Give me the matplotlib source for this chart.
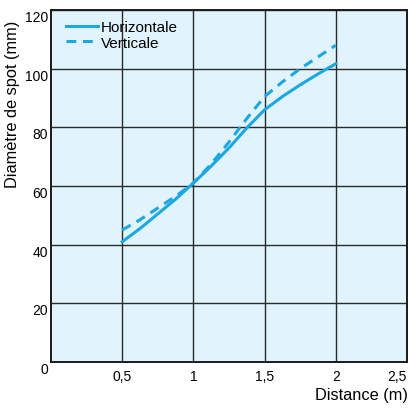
import matplotlib.pyplot as plt
import numpy as np
plt.rcParams['font.family'] = ['Liberation Sans', 'DejaVu Sans']

# donnees
distance = [0.5, 0.625, 0.75, 0.875, 1.0, 1.125, 1.25, 1.375, 1.5, 1.625, 1.75, 1.875, 2.0]
horizontale = [41, 45.5, 50.5, 55.5, 61, 66.8, 73, 79.8, 86, 90.5, 94.5, 98.2, 101.7]
verticale = [45, 48.5, 52.5, 56.5, 61, 67.5, 75, 83, 90.5, 95.5, 100, 104, 108]
xticks = [0.5, 1, 1.5, 2, 2.5]
xlabels = ['0,5', '1', '1,5', '2', '2,5']
yticks = [0, 20, 40, 60, 80, 100, 120]

fig = plt.figure(figsize=(4.09, 4.10), dpi=100)
ax = fig.add_axes([0.1247, 0.1146, 0.8703, 0.8584])
ax.set_facecolor('#e1f3fc')

bleu = '#1ba8e2'
ax.plot(distance, horizontale, '-', color=bleu, lw=2.2, label='Horizontale')
ax.plot(distance, verticale, '--', color=bleu, lw=2.2, dashes=(3.2, 2.2), label='Verticale')

ax.set_xlim(0, 2.5)
ax.set_ylim(0, 120)
ax.set_xticks(xticks)
ax.set_xticklabels(xlabels)
ax.set_yticks(yticks)
ax.tick_params(length=0, labelsize=10)
ax.tick_params(axis='y', pad=2)
ax.tick_params(axis='x', pad=5)
for lab in ax.get_yticklabels():
    lab.set_va('top')
ax.get_xticklabels()[-1].set_ha('right')
ax.grid(True, color='#2a2a2a', lw=1)
ax.set_axisbelow(True)
for s in ax.spines.values():
    s.set_linewidth(1.4)
    s.set_color('#1a1a1a')

ax.set_ylabel('Diamètre de spot (mm)', fontsize=11.8)
ax.yaxis.set_label_coords(-0.088, 0.735)
fig.text(0.997, 0.018, 'Distance (m)', ha='right', va='bottom', fontsize=11.8)

leg = ax.legend(loc='upper left', frameon=False, fontsize=11, handlelength=2.1,
                handletextpad=0.15, labelspacing=0.1, borderaxespad=0.25,
                bbox_to_anchor=(0.015, 1.0))

fig.savefig('out.png', dpi=100)
